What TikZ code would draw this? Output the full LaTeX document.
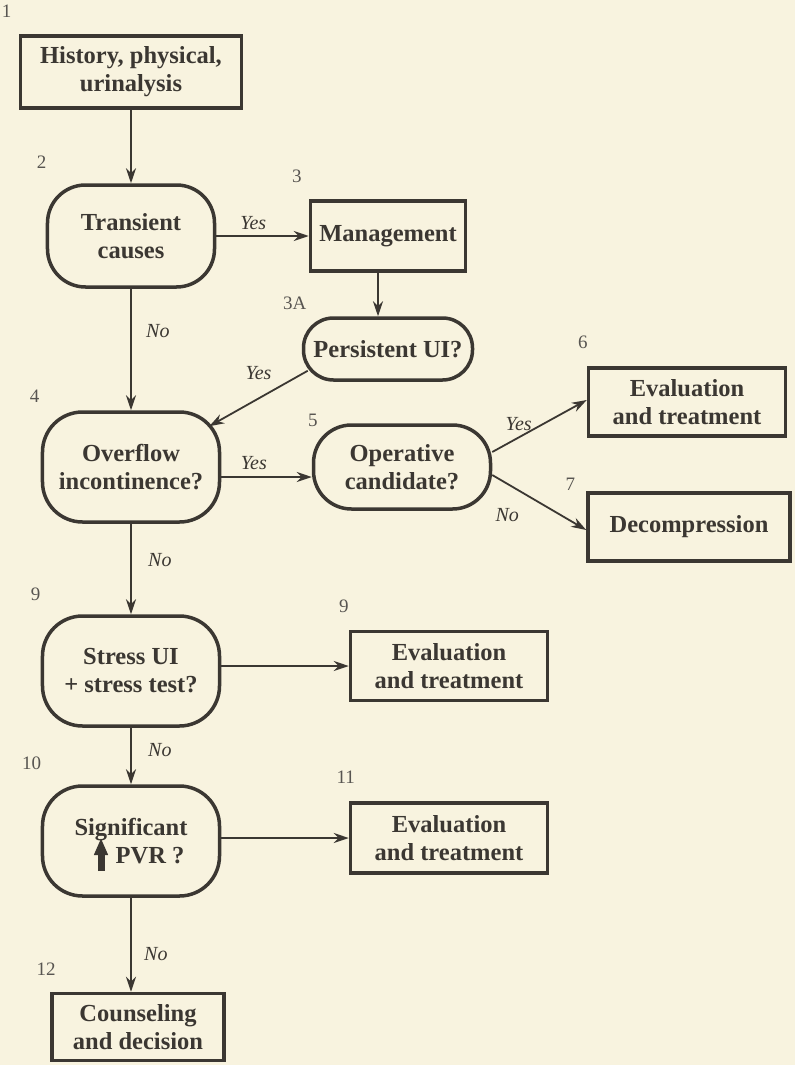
\documentclass[tikz,border=0pt]{standalone}
\usepackage{fontspec}
\setmainfont{Liberation Serif}
\usepackage{xcolor}
\usepackage{tikz}
\usetikzlibrary{shapes.geometric, arrows.meta, positioning}
\definecolor{paper}{HTML}{F8F3DF}
\definecolor{ink}{HTML}{3B3732}
\tikzstyle{box} = [rectangle, draw=ink, line width=3.5pt, minimum width=197pt, minimum height=69pt, inner sep=0pt, text centered, align=center, text=ink, font=\fontsize{24.5}{28}\selectfont\bfseries]
\tikzstyle{decision} = [rectangle, rounded corners=40pt, draw=ink, line width=3.5pt, minimum width=177pt, minimum height=110pt, inner sep=0pt, text centered, align=center, text=ink, font=\fontsize{24.5}{28}\selectfont\bfseries]
\tikzstyle{num} = [text=ink!85, font=\fontsize{19}{19}\selectfont]
\tikzstyle{lbl} = [text=ink, font=\fontsize{20}{20}\selectfont\itshape]
\tikzstyle{arrow} = [line width=1.8pt, draw=ink, ->, >={Stealth[length=15pt,width=10pt]}]

\begin{document}
\begin{tikzpicture}[x=1pt, y=1pt, node distance=110pt]
\useasboundingbox (-131,72) rectangle (664,-993);
\fill[paper] (-131,72) rectangle (664,-993);
% left column
\node (hist) [box, minimum width=221pt, minimum height=72pt] {History, physical,\\urinalysis};
\node (trans) [decision, below of=hist, yshift=-54pt, minimum width=167pt, minimum height=102pt, rounded corners=38pt] {Transient\\causes};
\node (over) [decision, below of=trans, yshift=-121pt] {Overflow\\incontinence?};
\node (stress) [decision, below of=over, yshift=-94pt] {Stress UI\\+ stress test?};
\node (sig) [decision, below of=stress, yshift=-60pt] {Significant\\\hspace*{38pt}PVR ?};
\node (couns) [box, below of=sig, yshift=-76pt, xshift=7pt, minimum width=172pt, minimum height=67pt] {Counseling\\and decision};
% right side
\node (mgmt) [box, right of=trans, xshift=147pt, minimum width=155pt, minimum height=70pt] {Management};
\node (persist) [decision, below of=mgmt, yshift=-3pt, minimum width=169pt, minimum height=62pt, rounded corners=30pt] {Persistent UI?};
\node (oper) [decision, right of=over, xshift=161pt, minimum height=84pt, rounded corners=38pt] {Operative\\candidate?};
\node (eval6) [box, right of=oper, xshift=175pt, yshift=65pt, minimum height=68pt] {Evaluation\\and treatment};
\node (decomp) [box, right of=oper, xshift=177pt, yshift=-60pt, minimum width=202pt, minimum height=68pt] {Decompression};
\node (eval9) [box, right of=stress, xshift=208pt, yshift=5pt] {Evaluation\\and treatment};
\node (eval11) [box, right of=sig, xshift=208pt, yshift=3pt, minimum height=70pt] {Evaluation\\and treatment};
% step numbers
\node [num] at ([xshift=-12pt,yshift=23pt]hist.north west) {1};
\node [num] at ([xshift=-4pt,yshift=21pt]trans.north west) {2};
\node [num] at ([xshift=-12pt,yshift=23pt]mgmt.north west) {3};
\node [num] at ([xshift=-7pt,yshift=13pt]persist.north west) {3A};
\node [num] at ([xshift=-6pt,yshift=14pt]over.north west) {4};
\node [num] at ([xshift=1pt,yshift=3pt]oper.north west) {5};
\node [num] at ([xshift=-4pt,yshift=24pt]eval6.north west) {6};
\node [num] at ([xshift=-16pt,yshift=7pt]decomp.north west) {7};
\node [num] at ([xshift=-5pt,yshift=20pt]stress.north west) {9};
\node [num] at ([xshift=-5pt,yshift=23pt]eval9.north west) {9};
\node [num] at ([xshift=-9pt,yshift=21pt]sig.north west) {10};
\node [num] at ([xshift=-3pt,yshift=24pt]eval11.north west) {11};
\node [num] at ([xshift=-4pt,yshift=23pt]couns.north west) {12};
% the raised arrow before PVR
\draw [ink, line width=7pt, -{Triangle[length=17pt,width=13pt]}] ([xshift=-30pt,yshift=-30pt]sig.center) -- ([xshift=-30pt,yshift=3pt]sig.center);
% connectors
\draw [arrow] (hist) -- (trans);
\draw [arrow] (trans.east) -- node[lbl, above=2pt, pos=0.4] {Yes} (mgmt.west);
\draw [arrow] ([xshift=-10pt]mgmt.south) -- ([xshift=-10pt]persist.north);
\draw [arrow] (trans) -- node[lbl, right=11pt, pos=0.35] {No} (over);
\draw [arrow] ([xshift=6pt,yshift=11pt]persist.south west) -- node[lbl, above=15pt, pos=0.5] {Yes} ([xshift=-12pt,yshift=-16pt]over.north east);
\draw [arrow] ([yshift=-10pt]over.east) -- node[lbl, above=3pt, pos=0.36] {Yes} ([yshift=-10pt]oper.west);
\draw [arrow] ([yshift=15pt]oper.east) -- node[lbl, above=3pt, pos=0.28] {Yes} ([yshift=2pt]eval6.west);
\draw [arrow] ([yshift=-8pt]oper.east) -- node[lbl, below=20pt, pos=0.16] {No} ([yshift=-3pt]decomp.west);
\draw [arrow] (over) -- node[lbl, right=13pt, pos=0.4] {No} (stress);
\draw [arrow] (stress.east |- eval9.west) -- (eval9.west);
\draw [arrow] (stress) -- node[lbl, right=13pt, pos=0.39] {No} (sig);
\draw [arrow] (sig.east |- eval11.west) -- (eval11.west);
\draw [arrow] (sig.south) -- node[lbl, right=9pt, pos=0.6] {No} (sig.south |- couns.north);
\end{tikzpicture}
\end{document}
